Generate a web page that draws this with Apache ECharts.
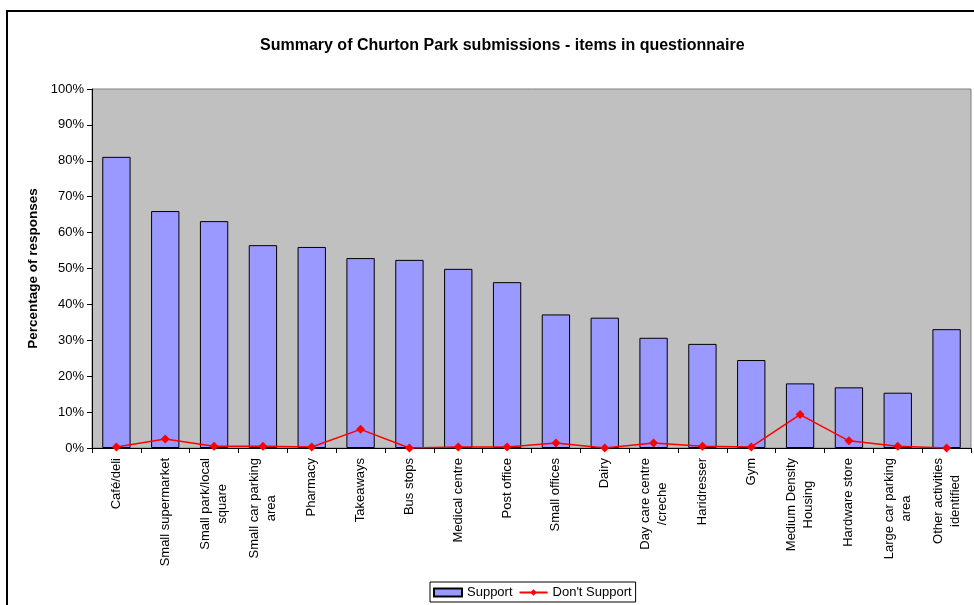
<!DOCTYPE html>
<html>
<head>
<meta charset="utf-8">
<title>Churton Park submissions</title>
<script src="https://cdn.jsdelivr.net/npm/echarts@6/dist/echarts.min.js"></script>
<style>
  html, body { margin: 0; padding: 0; background: #fff; }
  #chart { width: 974px; height: 605px; }
</style>
</head>
<body>
<div id="chart"></div>
<script>
const categories = [
  'Café/deli', 'Small supermarket', 'Small park/local\nsquare', 'Small car parking\narea',
  'Pharmacy', 'Takeaways', 'Bus stops', 'Medical centre', 'Post office', 'Small offices',
  'Dairy', 'Day care centre\n/creche', 'Haridresser', 'Gym', 'Medium Density\nHousing',
  'Hardware store', 'Large car parking\narea', 'Other activities\nidentified'
]
const support = [81.1, 66.0, 63.2, 56.5, 56.0, 52.9, 52.4, 49.9, 46.2, 37.2, 36.3, 30.7, 29.0, 24.5, 18.0, 16.9, 15.4, 33.1]
const dontSupport = [0.3, 2.5, 0.5, 0.5, 0.3, 5.2, 0, 0.3, 0.3, 1.4, 0, 1.4, 0.5, 0.3, 9.3, 2.0, 0.5, 0]

const font = 'Liberation Sans, Arial, sans-serif'

const chart = echarts.init(document.getElementById('chart'))

chart.setOption({
  animation: false,
  textStyle: { fontFamily: font, color: '#000' },
  title: {
    text: 'Summary of Churton Park submissions - items in questionnaire',
    left: 255,
    top: 33,
    textStyle: { fontFamily: font, fontSize: 16, fontWeight: 'bold', color: '#000' }
  },
  graphic: [
    {
      type: 'rect',
      shape: { x: 7, y: 11, width: 1000, height: 700 },
      style: { fill: 'none', stroke: '#000', lineWidth: 2 },
      silent: true
    }
  ],
  legend: {
    bottom: 3,
    left: 430,
    itemWidth: 28,
    itemHeight: 8,
    itemGap: 6,
    padding: [4, 4, 3, 3],
    borderColor: '#000',
    borderWidth: 1,
    borderRadius: 0,
    textStyle: { fontFamily: font, fontSize: 13, color: '#000' },
    data: [{ name: 'Support', icon: 'rect' }, { name: "Don't Support" }]
  },
  grid: {
    left: 92,
    top: 89,
    right: 3,
    bottom: 157,
    show: true,
    backgroundColor: '#C0C0C0',
    borderColor: '#808080',
    borderWidth: 1
  },
  xAxis: {
    type: 'category',
    data: categories,
    axisLine: { lineStyle: { color: '#000', width: 1 } },
    axisTick: { show: true, length: 5, lineStyle: { color: '#000' } },
    axisLabel: {
      rotate: 90,
      margin: 10,
      interval: 0,
      fontFamily: font,
      fontSize: 13,
      color: '#000',
      formatter: v => v.split('\n').map(s => '{c|' + s + '}').join('\n'),
      rich: {
        c: { align: 'center', fontFamily: font, fontSize: 13, lineHeight: 17, color: '#000' }
      }
    },
    splitLine: { show: false }
  },
  yAxis: {
    type: 'value',
    min: 0,
    max: 100,
    interval: 10,
    name: 'Percentage of responses',
    nameLocation: 'middle',
    nameGap: 51,
    nameTextStyle: { fontFamily: font, fontSize: 13.5, fontWeight: 'bold', color: '#000' },
    axisLine: { show: true, lineStyle: { color: '#000', width: 1 } },
    axisTick: { show: true, length: 5, lineStyle: { color: '#000' } },
    axisLabel: { formatter: '{value}%', margin: 8, fontFamily: font, fontSize: 13, color: '#000' },
    splitLine: { show: false }
  },
  series: [
    {
      name: 'Support',
      type: 'bar',
      data: support,
      barWidth: '58%',
      itemStyle: { color: '#9999FF', borderColor: '#000', borderWidth: 1 }
    },
    {
      name: "Don't Support",
      type: 'line',
      data: dontSupport,
      symbol: 'diamond',
      symbolSize: 9,
      lineStyle: { color: '#FF0000', width: 1.5 },
      itemStyle: { color: '#FF0000' }
    }
  ]
})
</script>
</body>
</html>
